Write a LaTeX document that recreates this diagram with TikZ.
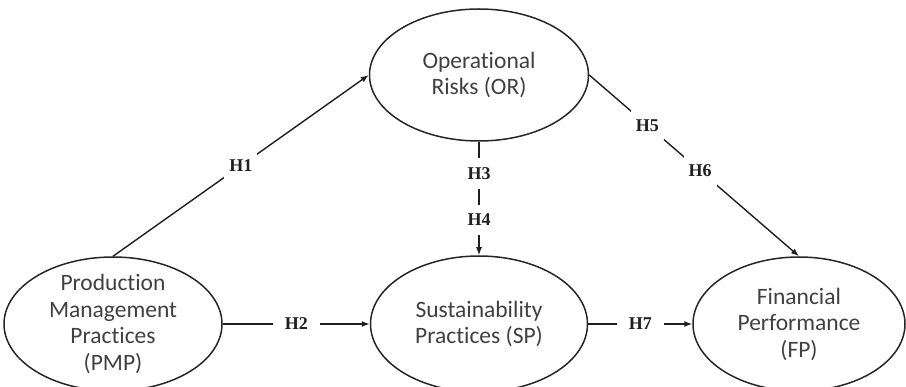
\documentclass[tikz,border=0pt]{standalone}
\usepackage{fontspec}
\setmainfont{Liberation Serif}
\newfontfamily\carlito[Ligatures={NoCommon}]{Carlito}
\usetikzlibrary{shapes.geometric,arrows.meta}
\begin{document}
\begin{tikzpicture}[x=1pt,y=-1pt,
  latent/.style={ellipse,draw=black!85,line width=1.5pt,inner sep=0pt},
  ltext/.style={align=center,font=\carlito\fontsize{23.5}{26.5}\selectfont,text=black!75},
  conn/.style={line width=1.4pt,draw=black!88,-{Latex[length=8pt,width=6pt]}},
  lbl/.style={fill=white,font=\bfseries\fontsize{18}{20}\selectfont,text=black!88,inner xsep=5pt,inner ysep=9pt},
]
\useasboundingbox (0,0) rectangle (906,387);
\node[latent,minimum width=219pt,minimum height=132pt] (or) at (479,75) {};
\node[latent,minimum width=218pt,minimum height=134pt] (pmp) at (113,324) {};
\node[latent,minimum width=217pt,minimum height=136pt] (sp) at (479,324) {};
\node[latent,minimum width=212pt,minimum height=134pt] (fp) at (799,324) {};
\node[ltext] (ortext) at (or) {Operational\\Risks (OR)};
\node[ltext] (pmptext) at (pmp) {Production\\Management\\Practices\\(PMP)};
\node[ltext] (sptext) at (sp) {Sustainability\\Practices (SP)};
\node[ltext] (fptext) at (fp) {Financial\\Performance\\(FP)};
\draw[conn] (pmp.north) -- node[lbl,pos=0.5]{H1} (or.west);
\draw[conn] (pmp.east) -- node[lbl,inner xsep=12pt]{H2} (sp.west);
\draw[conn] (or.south) -- node[lbl,pos=0.28]{H3} node[lbl,pos=0.69]{H4} (sp.north);
\draw[conn] (or.east) -- node[lbl,pos=0.277]{H5} node[lbl,pos=0.528]{H6} (fp.north);
\draw[conn] (sp.east) -- node[lbl,inner xsep=12pt]{H7} (fp.west);
\end{tikzpicture}
\end{document}
